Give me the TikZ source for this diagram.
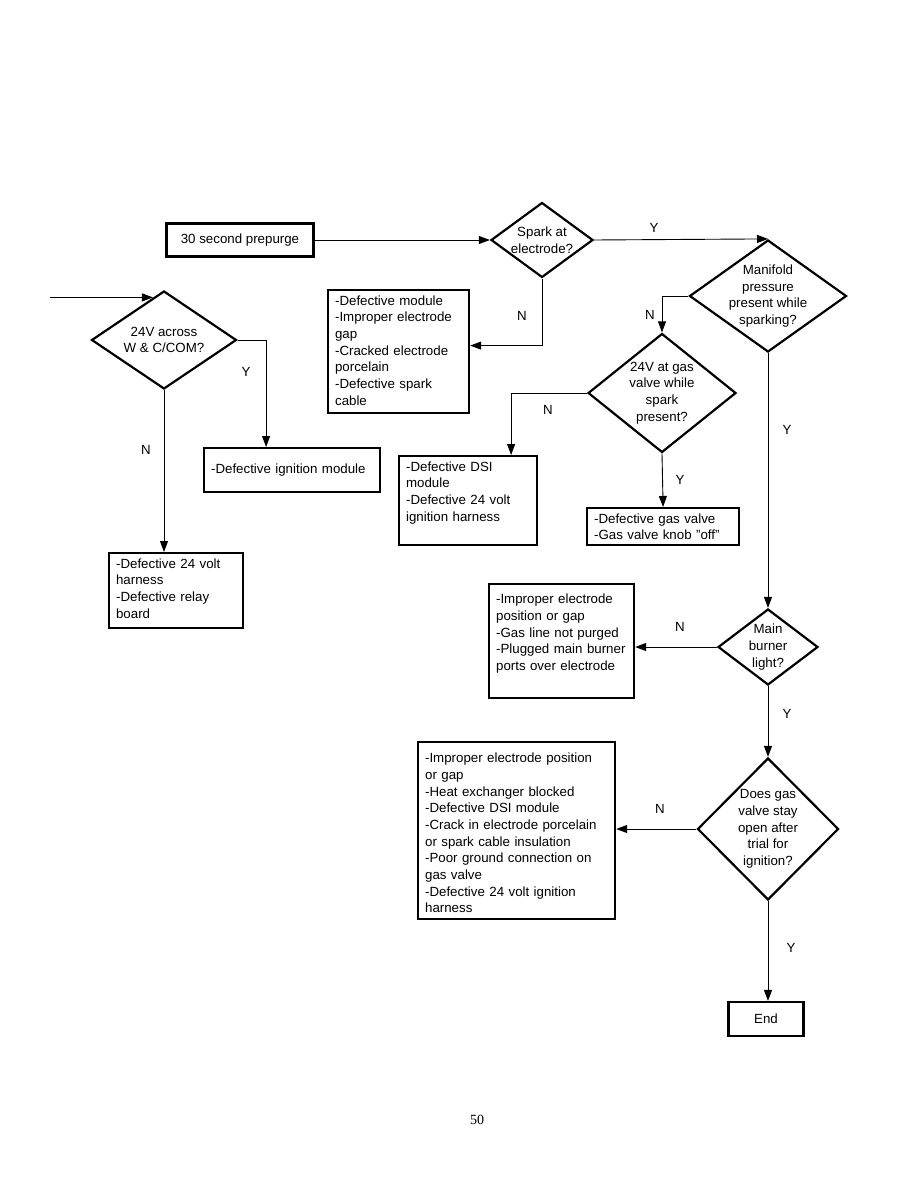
\documentclass[tikz,border=0pt]{standalone}
\usepackage{fontspec}
\setmainfont{Liberation Sans}
\newfontfamily\pagefont{Liberation Serif}
\usetikzlibrary{arrows.meta,positioning,shapes.geometric,calc}
\newcommand{\chartfont}{\fontsize{13.3}{16.7}\selectfont}

\begin{document}
\begin{tikzpicture}[x=1pt,y=-1pt,
  term/.style={draw,line width=2.2pt,font=\chartfont,inner sep=0pt},
  fault/.style={draw,line width=2.2pt,font=\chartfont,align=left,anchor=north west,
    inner xsep=7pt,inner ysep=5pt,text height=10pt},
  query/.style={draw,diamond,line width=2.2pt,font=\chartfont,align=center,inner sep=-40pt},
  conn/.style={line width=0.9pt,-{Triangle[length=11pt,width=8pt]}},
  yn/.style={font=\chartfont}
]
  \useasboundingbox (0,0) rectangle (918,1188);
  % Prepurge and spark check
  \node[term,minimum width=147pt,minimum height=33pt] (pre) at (240,240) {30 second prepurge};
  \node[query,minimum width=102pt,minimum height=75pt] (spark) at (542,240) {Spark at\\electrode?};
  \node[fault,text width=127pt,text depth=103pt] (mod) at (327,289)
    {-Defective module\\-Improper electrode\\gap\\-Cracked electrode\\porcelain\\-Defective spark\\cable};
  \draw[conn] (pre.east) -- (spark.west);
  \draw[conn] (spark.south) |- ([yshift=6pt]mod.east);
  \node[yn] (sparkN) at (522,316) {N};
  % Manifold pressure
  \node[query,minimum width=157pt,minimum height=112pt] (man) at (768,296)
    {Manifold\\pressure\\present while\\sparking?};
  \draw[conn] (spark.east) -- (man.north);
  \node[yn] (sparkY) at (654,228) {Y};
  \node[query,minimum width=148pt,minimum height=119pt] (gasv) at (662,393)
    {24V at gas\\valve while\\spark\\present?};
  \draw[conn] (man.west) -| (gasv.north);
  \node[yn] (manN) at (650,315) {N};
  \node[fault,text width=124pt,text depth=69pt] (dsi) at (398,455)
    {-Defective DSI\\module\\-Defective 24 volt\\ignition harness};
  \node[fault,text width=138pt,text depth=17pt] (valve) at (586,507)
    {-Defective gas valve\\-Gas valve knob "off"};
  \draw[conn] (gasv.west) -| ([xshift=43pt]dsi.north);
  \node[yn] (gasvN) at (548,410) {N};
  \draw[conn] (gasv.south) -- (valve.north);
  \node[yn] (gasvY) at (680,480) {Y};
  % Left branch
  \node[query,minimum width=145pt,minimum height=98pt] (across) at (164,340)
    {24V across\\W \& C/COM?};
  \coordinate (tip) at ($(across.north)!0.15!(across.west)$);
  \coordinate (in) at ([xshift=-103pt]tip);
  \draw[conn] (in) -- (tip);
  \node[fault,text width=162pt,inner ysep=15.5pt,text depth=3pt] (ign) at (203,447)
    {-Defective ignition module};
  \node[fault,text width=120pt,text depth=55pt] (relay) at (108,552)
    {-Defective 24 volt\\harness\\-Defective relay\\board};
  \draw[conn] (across.east) -| ([xshift=-26pt]ign.north);
  \node[yn] (acrossY) at (246,372) {Y};
  \draw[conn] (across.south) -- (across.south |- relay.north);
  \node[yn] (acrossN) at (146,450) {N};
  % Main burner
  \node[query,minimum width=100pt,minimum height=76pt] (burner) at (768,647)
    {Main\\burner\\light?};
  \node[fault,text width=131pt,inner ysep=9.5pt,text depth=85pt] (bbox) at (488,583)
    {-Improper electrode\\position or gap\\-Gas line not purged\\-Plugged main burner\\ports over electrode};
  \draw[conn] (man.south) -- (burner.north);
  \node[yn] (manY) at (787,430) {Y};
  \draw[conn] (burner.west) -- (burner.west -| bbox.east);
  \node[yn] (burnerN) at (680,627) {N};
  % Gas valve stays open
  \node[query,minimum width=141pt,minimum height=142pt] (dgas) at (768,829)
    {Does gas\\valve stay\\open after\\trial for\\ignition?};
  \node[fault,text width=183pt,inner ysep=10.5pt,text depth=146pt] (big) at (417,741)
    {-Improper electrode position\\or gap\\-Heat exchanger blocked\\-Defective DSI module\\-Crack in electrode porcelain\\or spark cable insulation\\-Poor ground connection on\\gas valve\\-Defective 24 volt ignition\\harness};
  \draw[conn] (burner.south) -- (dgas.north);
  \node[yn] (burnerY) at (787,714) {Y};
  \draw[conn] (dgas.west) -- (dgas.west -| big.east);
  \node[yn] (dgasN) at (660,809) {N};
  \node[term,minimum width=75pt,minimum height=34pt] (end) at (766,1019) {End};
  \draw[conn] (dgas.south) -- (dgas.south |- end.north);
  \node[yn] (dgasY) at (791,948) {Y};
  % Page number
  \node[font={\pagefont\fontsize{14}{16}\selectfont}] (pnum) at (477,1120) {50};
\end{tikzpicture}
\end{document}
